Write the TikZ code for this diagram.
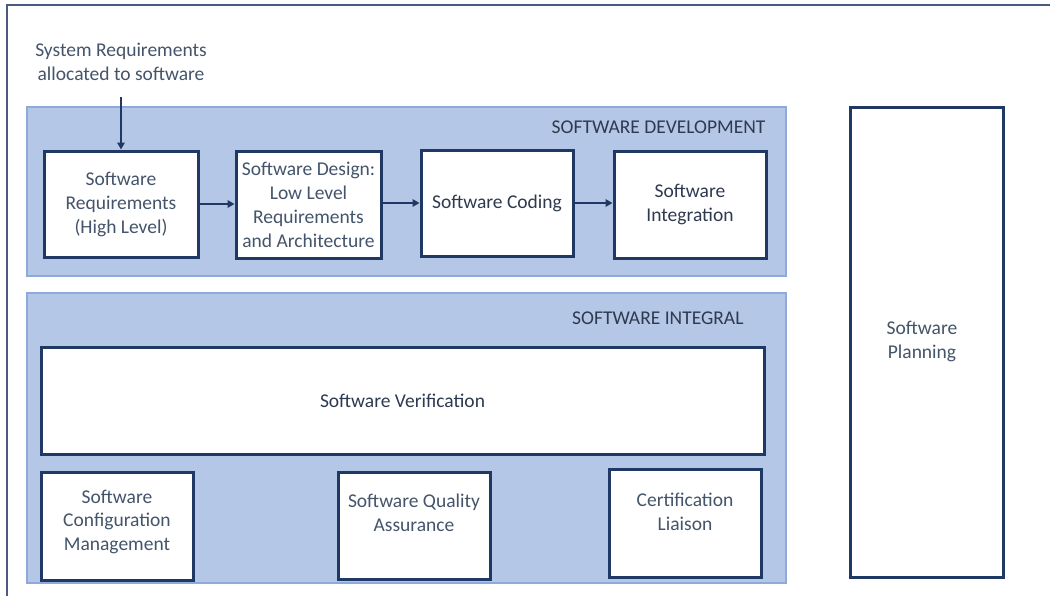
\documentclass[tikz,border=0pt]{standalone}
\usepackage{fontspec}
\setmainfont{Carlito}
\usetikzlibrary{arrows.meta}
\definecolor{panelfill}{HTML}{B4C7E7}
\definecolor{panelline}{HTML}{8EA9DB}
\definecolor{boxline}{HTML}{1F3864}
\definecolor{txt}{HTML}{44546A}
\definecolor{txtdark}{HTML}{2E3A50}
\definecolor{frameline}{HTML}{4A5A80}
\tikzset{
  panel/.style={draw=panelline, fill=panelfill, line width=1.5pt, minimum width=759pt, inner sep=0pt},
  stepbox/.style={draw=boxline, fill=white, line width=3pt, inner sep=2pt, align=center,
    text=txt, font=\fontsize{19.5}{24}\selectfont},
  boxtext/.style={text=txt, align=center, inner sep=0pt, font=\fontsize{19.5}{23.5}\selectfont},
  heading/.style={text=txtdark, font=\fontsize{19.5}{22}\selectfont},
  flow/.style={draw=boxline, line width=2.2pt, -{Triangle[length=7pt,width=7.5pt]}},
}
\begin{document}
\begin{tikzpicture}[x=1pt,y=-1pt]
\useasboundingbox (0,0) rectangle (1050,595);
% page frame, only its top and left sides fall on the page
\begin{scope}
  \clip (0,0) rectangle (1050,595);
  \draw[frameline, line width=1.5pt] (7,5) rectangle (1070,620);
\end{scope}

% lifecycle panels
\node[panel, minimum height=169pt] (dev) at (406.5,191.5) {};
\node[panel, minimum height=290pt] (integ) at (406.5,438) {};
\node[heading, anchor=east] (devlbl) at (769,127) {SOFTWARE DEVELOPMENT};
\node[heading, anchor=east] (intlbl) at (747,318) {SOFTWARE INTEGRAL};

% development processes
\node[stepbox, minimum width=154pt, minimum height=106pt] (req) at (121,204)
  {Software\\Requirements\\(High Level)};
\node[stepbox, minimum width=145pt, minimum height=107pt, inner sep=0pt] (des) at (308.5,204.5)
  {Software Design:\\Low Level\\Requirements\\and Architecture};
\node[stepbox, minimum width=152pt, minimum height=106pt, text=txtdark] (cod) at (497,203)
  {Software Coding};
\node[stepbox, minimum width=152pt, minimum height=107pt, text=txtdark] (int) at (690,204.5)
  {Software\\Integration};

% integral processes
\node[stepbox, minimum width=723pt, minimum height=107pt, text=txtdark] (ver) at (402.5,400.5)
  {Software Verification};
\node[stepbox, minimum width=152pt, minimum height=108pt, anchor=north] (scm) at (117,471) {};
\node[stepbox, minimum width=152pt, minimum height=107pt, anchor=north] (sqa) at (414,471) {};
\node[stepbox, minimum width=152pt, minimum height=108pt, anchor=north] (cert) at (685,468) {};
\node[boxtext] (scmlbl) at ([yshift=5pt]scm.center) {Software\\Configuration\\Management};
\node[boxtext] (sqalbl) at ([yshift=13pt]sqa.center) {Software Quality\\Assurance};
\node[boxtext] (certlbl) at ([yshift=11.5pt]cert.center) {Certification\\Liaison};

% planning
\node[stepbox, minimum width=153pt, minimum height=470pt] (plan) at (926.5,342) {};
\node[boxtext] (planlbl) at (922,341.5) {Software\\Planning};

% system input
\node[boxtext] (sys) at (121,62) {System Requirements\\allocated to software};
\coordinate (sysin) at (121,97);

% flows
\draw[flow] (sysin) -- (req.north);
\draw[flow] (req.east) -- (des.west |- req.east);
\draw[flow] (des.east |- cod.east) -- (cod.west);
\draw[flow] (cod.east) -- (int.west |- cod.east);
\end{tikzpicture}
\end{document}
